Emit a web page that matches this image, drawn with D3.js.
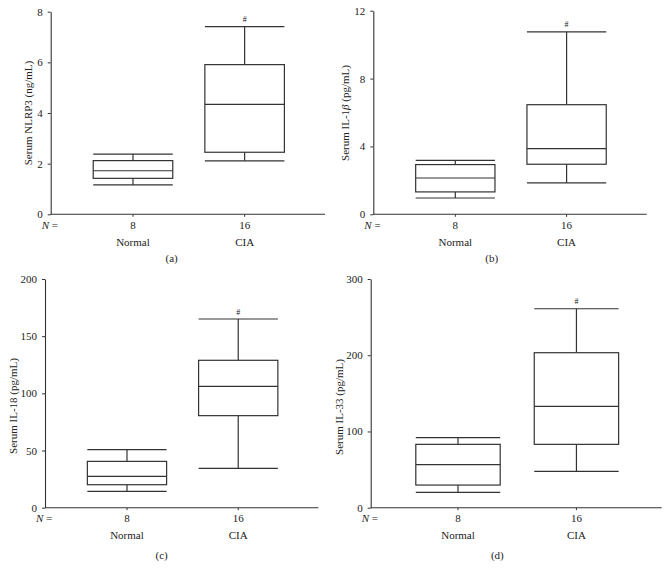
<!DOCTYPE html>
<html>
<head>
<meta charset="utf-8">
<script src="https://cdn.jsdelivr.net/npm/d3@7"></script>
<style>
  html, body { margin: 0; padding: 0; background: #fff; }
  svg { display: block; }
  text { font-family: "Liberation Serif", "Times New Roman", serif; fill: #222; }
</style>
</head>
<body>
<svg id="chart" width="669" height="575"></svg>
<script>
// ---- Data ----
const categories = ["Normal", "CIA"];
const groupN = ["8", "16"];
const panelLabels = ["(a)", "(b)", "(c)", "(d)"];

// [min, Q1, median, Q3, max]
const nlrp3Normal = [1.16, 1.42, 1.72, 2.12, 2.38];
const nlrp3CIA    = [2.11, 2.45, 4.34, 5.91, 7.41];
const il1bNormal  = [0.96, 1.32, 2.14, 2.93, 3.18];
const il1bCIA     = [1.85, 2.95, 3.87, 6.46, 10.75];
const il18Normal  = [14.3, 20.1, 27.4, 40.5, 50.7];
const il18CIA     = [34.4, 80.5, 106.1, 128.9, 165];
const il33Normal  = [20.1, 29.7, 56.4, 83.1, 91.8];
const il33CIA     = [47.7, 83.1, 132.9, 203.3, 261];

const nlrp3Ticks = [0, 2, 4, 6, 8];
const il1bTicks  = [0, 4, 8, 12];
const il18Ticks  = [0, 50, 100, 150, 200];
const il33Ticks  = [0, 100, 200, 300];

const sigMark = "#";

// ---- Layout ----
const panels = [
  { stats: [nlrp3Normal, nlrp3CIA], ticks: nlrp3Ticks, title: ["Serum NLRP3 (ng/mL)"],
    x0: 50.7, x1: 325, yTop: 11.7, yBot: 214.3, titleX: 28, titleY: 113, capX: 171.7 },
  { stats: [il1bNormal, il1bCIA], ticks: il1bTicks, title: ["Serum IL-1", "β", " (pg/mL)"],
    x0: 373.3, x1: 646.7, yTop: 10.7, yBot: 214.3, titleX: 345, titleY: 113, capX: 491.7 },
  { stats: [il18Normal, il18CIA], ticks: il18Ticks, title: ["Serum IL-18 (pg/mL)"],
    x0: 45, x1: 318.3, yTop: 279, yBot: 507.7, titleX: 12.5, titleY: 406, capX: 161.7 },
  { stats: [il33Normal, il33CIA], ticks: il33Ticks, title: ["Serum IL-33 (pg/mL)"],
    x0: 370.7, x1: 661.7, yTop: 279, yBot: 507.7, titleX: 338.5, titleY: 407, capX: 497.3 }
];

const svg = d3.select("#chart");
const lineColor = "#333";

panels.forEach((p, i) => {
  const W = p.x1 - p.x0;
  const x = d3.scalePoint().domain(categories).range([p.x0 + 0.3 * W, p.x0 + 0.707 * W]);
  const boxW = 0.29 * W;
  const y = d3.scaleLinear().domain([0, d3.max(p.ticks)]).range([p.yBot, p.yTop]);

  const g = svg.append("g");

  // y axis
  const yAxis = d3.axisLeft(y).tickValues(p.ticks).tickSize(3).tickPadding(5).tickSizeOuter(0);
  const ya = g.append("g").attr("transform", `translate(${p.x0},0)`).call(yAxis);
  ya.select(".domain").attr("stroke", lineColor).attr("stroke-width", 1.1);
  ya.selectAll(".tick line").attr("stroke", lineColor);
  ya.selectAll(".tick text").attr("font-size", 11).attr("font-family", "Liberation Serif, serif").attr("fill", "#222");

  // x axis line
  g.append("line").attr("x1", p.x0).attr("x2", p.x1).attr("y1", p.yBot).attr("y2", p.yBot)
    .attr("stroke", lineColor).attr("stroke-width", 1.1);
  // x ticks
  g.selectAll(".xt").data(categories).enter().append("line")
    .attr("x1", d => x(d)).attr("x2", d => x(d))
    .attr("y1", p.yBot).attr("y2", p.yBot + 2.5)
    .attr("stroke", lineColor);

  // N labels
  const nText = g.append("text").attr("x", p.x0 - 9).attr("y", p.yBot + 14.5).attr("font-size", 11);
  nText.append("tspan").attr("font-style", "italic").text("N");
  nText.append("tspan").text(" =");

  g.selectAll(".nval").data(groupN).enter().append("text")
    .attr("x", (d, j) => x(categories[j])).attr("y", p.yBot + 14.5)
    .attr("text-anchor", "middle").attr("font-size", 11).text(d => d);

  g.selectAll(".cat").data(categories).enter().append("text")
    .attr("x", d => x(d)).attr("y", p.yBot + 31.5)
    .attr("text-anchor", "middle").attr("font-size", 11).text(d => d);

  // caption
  g.append("text").attr("x", p.capX).attr("y", p.yBot + (i < 2 ? 48 : 51))
    .attr("text-anchor", "middle").attr("font-size", 11).text(panelLabels[i]);

  // y title
  const t = g.append("text")
    .attr("transform", `translate(${p.titleX},${p.titleY}) rotate(-90)`)
    .attr("text-anchor", "middle").attr("dominant-baseline", "central").attr("font-size", 11);
  p.title.forEach((s, k) => {
    const ts = t.append("tspan").text(s);
    if (s === "β") ts.attr("font-style", "italic");
  });

  // boxes
  categories.forEach((c, j) => {
    const s = p.stats[j];
    const cx = x(c);
    const bg = g.append("g").attr("stroke", lineColor).attr("stroke-width", 1.2).attr("fill", "none");
    // whiskers
    bg.append("line").attr("x1", cx).attr("x2", cx).attr("y1", y(s[0])).attr("y2", y(s[1]));
    bg.append("line").attr("x1", cx).attr("x2", cx).attr("y1", y(s[3])).attr("y2", y(s[4]));
    // caps
    [s[0], s[4]].forEach(v => {
      bg.append("line").attr("x1", cx - boxW / 2).attr("x2", cx + boxW / 2).attr("y1", y(v)).attr("y2", y(v));
    });
    // box
    bg.append("rect").attr("x", cx - boxW / 2).attr("y", y(s[3]))
      .attr("width", boxW).attr("height", y(s[1]) - y(s[3])).attr("fill", "#fff");
    // median
    bg.append("line").attr("x1", cx - boxW / 2).attr("x2", cx + boxW / 2).attr("y1", y(s[2])).attr("y2", y(s[2]));
    if (j === 1) {
      g.append("text").attr("x", cx).attr("y", y(s[4]) - 4.5).attr("text-anchor", "middle")
        .attr("font-size", 8).text(sigMark);
    }
  });
});
</script>
</body>
</html>
